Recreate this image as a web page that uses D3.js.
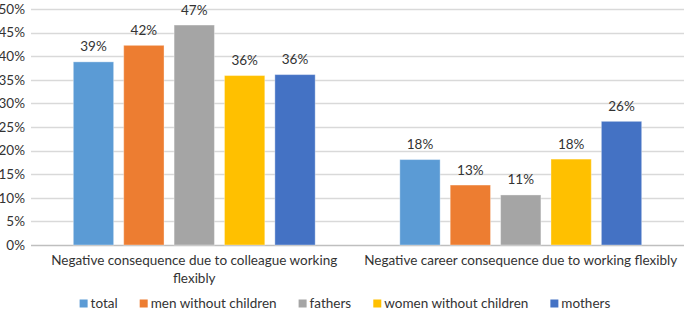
<!DOCTYPE html>
<html>
<head>
<meta charset="utf-8">
<script src="https://cdn.jsdelivr.net/npm/d3@7"></script>
<style>
  html, body { margin: 0; padding: 0; background: #fff; }
  svg { display: block; font-family: Lato, "Open Sans", sans-serif; }
</style>
</head>
<body>
<div id="chart"></div>
<script>
// Flexible working consequences – grouped bar chart

const categories = [
    'Negative consequence due to colleague working flexibly',
    'Negative career consequence due to working flexibly'
];
const seriesNames = ['total', 'men without children', 'fathers', 'women without children', 'mothers'];
const seriesColors = ['#5B9BD5', '#ED7D31', '#A5A5A5', '#FFC000', '#4472C4'];
// values in percent, one array per category
const colleagueValues = [38.8, 42.3, 46.6, 35.9, 36.1];
const careerValues = [18.1, 12.7, 10.6, 18.2, 26.2];
const labelValues = [[39, 42, 47, 36, 36], [18, 13, 11, 18, 26]];
const yTicks = [0, 5, 10, 15, 20, 25, 30, 35, 40, 45, 50];

const width = 685, height = 313;
const margin = { top: 9, right: 1, bottom: 68, left: 31 };
const fontSize = '13.5px';
const textColor = '#333333';

const svg = d3.select('#chart').append('svg')
    .attr('width', width)
    .attr('height', height);

const y = d3.scaleLinear()
    .domain([0, 50])
    .range([height - margin.bottom, margin.top]);

const x0 = d3.scaleBand()
    .domain(categories)
    .range([margin.left, width - margin.right])
    .paddingInner(0)
    .paddingOuter(0);

const x1 = d3.scaleBand()
    .domain(seriesNames)
    .range([0, x0.bandwidth()])
    .paddingInner(0.2)
    .paddingOuter(0.84);

// gridlines
svg.append('g')
    .selectAll('line')
    .data(yTicks)
    .join('line')
    .attr('x1', margin.left)
    .attr('x2', width - margin.right)
    .attr('y1', d => Math.round(y(d)) + 0.5)
    .attr('y2', d => Math.round(y(d)) + 0.5)
    .attr('stroke', d => d === 0 ? '#BFBFBF' : '#D9D9D9')
    .attr('stroke-width', 1.3);

// y axis labels
svg.append('g')
    .selectAll('text')
    .data(yTicks)
    .join('text')
    .attr('x', 25)
    .attr('y', d => y(d))
    .attr('dy', '0.35em')
    .attr('text-anchor', 'end')
    .attr('font-size', fontSize)
    .attr('fill', textColor)
    .text(d => d + '%');

const rows = [colleagueValues, careerValues];

const group = svg.selectAll('g.cat')
    .data(categories)
    .join('g')
    .attr('class', 'cat')
    .attr('transform', d => `translate(${x0(d)},0)`);

group.selectAll('rect')
    .data((d, i) => rows[i].map((v, j) => ({ name: seriesNames[j], value: v, color: seriesColors[j] })))
    .join('rect')
    .attr('x', d => x1(d.name))
    .attr('y', d => y(d.value))
    .attr('width', x1.bandwidth())
    .attr('height', d => y(0) - y(d.value))
    .attr('fill', d => d.color)
    .attr('stroke', '#ffffff')
    .attr('stroke-opacity', 0.35)
    .attr('stroke-width', 1);

group.selectAll('text.val')
    .data((d, i) => rows[i].map((v, j) => ({ name: seriesNames[j], value: v, label: labelValues[i][j] })))
    .join('text')
    .attr('class', 'val')
    .attr('x', d => x1(d.name) + x1.bandwidth() / 2)
    .attr('y', d => y(d.value) - 10.5)
    .attr('text-anchor', 'middle')
    .attr('font-size', fontSize)
    .attr('fill', textColor)
    .text(d => d.label + '%');

// category labels, wrapped to fit
function wrapLines(text, maxWidth) {
    const probe = svg.append('text').attr('font-size', fontSize);
    const words = text.split(' ');
    const lines = [];
    let line = [];
    words.forEach(w => {
        line.push(w);
        probe.text(line.join(' '));
        if (probe.node().getComputedTextLength() > maxWidth && line.length > 1) {
            line.pop();
            lines.push(line.join(' '));
            line = [w];
        }
    });
    lines.push(line.join(' '));
    probe.remove();
    return lines;
}

const catLimits = [300, 326];
categories.forEach((c, i) => {
    const lines = wrapLines(c, catLimits[i]);
    const cxl = x0(c) + x0.bandwidth() / 2;
    const t = svg.append('text')
        .attr('x', cxl)
        .attr('y', y(0) + 20)
        .attr('text-anchor', 'middle')
        .attr('font-size', fontSize)
        .attr('fill', textColor);
    lines.forEach((l, k) => {
        t.append('tspan')
            .attr('x', cxl)
            .attr('dy', k === 0 ? 0 : 17.5)
            .text(l);
    });
});

// legend
const legend = svg.append('g').attr('transform', `translate(0,${height - 5})`);
const items = legend.selectAll('g')
    .data(seriesNames)
    .join('g');
items.append('rect')
    .attr('y', -8.5)
    .attr('width', 8)
    .attr('height', 8)
    .attr('fill', (d, i) => seriesColors[i]);
items.append('text')
    .attr('x', 11)
    .attr('font-size', fontSize)
    .attr('fill', textColor)
    .text(d => d);

// lay legend out centered
const widths = [];
items.each(function () { widths.push(this.getBBox().width); });
const gapL = 22;
const total = d3.sum(widths) + gapL * (widths.length - 1);
let cx = 345 - total / 2;
items.attr('transform', (d, i) => {
    const tx = cx;
    cx += widths[i] + gapL;
    return `translate(${tx},0)`;
});
</script>
</body>
</html>
